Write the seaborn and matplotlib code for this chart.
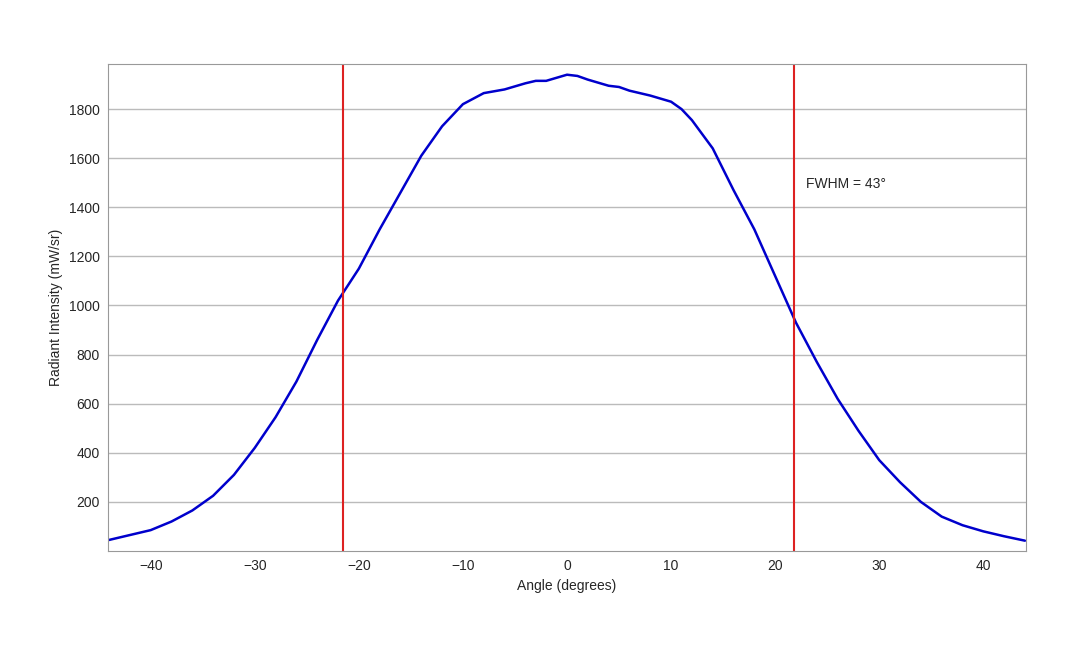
import matplotlib
matplotlib.use("Agg")
import matplotlib.pyplot as plt
import seaborn as sns
import pandas as pd

sns.set_style("white")
plt.rcParams['font.family'] = ['Liberation Sans', 'DejaVu Sans']

angle = [-44, -42, -40, -38, -36, -34, -32, -30, -28, -26, -24, -22, -20, -18, -16, -14, -12, -10, -8, -6,
         -4, -3, -2, 0, 1, 2, 4, 5, 6, 8, 10, 11, 12, 14, 16, 18, 20, 22, 24, 26, 28, 30, 32, 34, 36, 38, 40, 42, 44]
intensity = [45, 65, 85, 120, 165, 225, 310, 420, 545, 690, 860, 1020, 1150, 1310, 1460, 1610, 1730, 1820, 1865, 1880,
             1905, 1915, 1915, 1940, 1935, 1920, 1895, 1890, 1875, 1855, 1830, 1800, 1755, 1640, 1470, 1310, 1120, 930, 770, 620, 490, 370, 280, 200, 140, 105, 80, 60, 42]
fwhm_lines = [-21.5, 21.8]
df = pd.DataFrame({"angle": angle, "intensity": intensity})

fig = plt.figure(figsize=(10.8, 6.48), dpi=100)
ax = fig.add_axes([0.1, 0.1497, 0.85, 0.7513])
sns.lineplot(data=df, x="angle", y="intensity", ax=ax, color="#0000cc", linewidth=1.8)
for v in fwhm_lines:
    ax.axvline(v, color="#dd2222", linewidth=1.5)
ax.set_xlim(-44.1, 44.1)
ax.set_ylim(0, 1983)
ax.set_xticks(range(-40, 41, 10))
ax.set_yticks(range(200, 1801, 200))
ax.yaxis.grid(True, color="#bbbbbb", linewidth=1)
ax.set_axisbelow(True)
for s in ax.spines.values():
    s.set_color("#999999")
ax.tick_params(labelsize=10, length=0, pad=6)
ax.set_xlabel("Angle (degrees)", fontsize=10)
ax.set_ylabel("Radiant Intensity (mW/sr)", fontsize=10)
ax.text(23, 1480, "FWHM = 43°", fontsize=10)
fig.savefig("out.png", dpi=100)
